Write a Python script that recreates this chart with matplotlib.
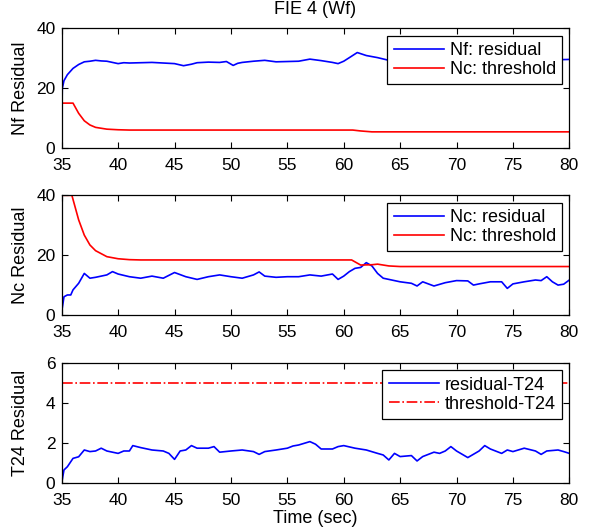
import matplotlib.pyplot as plt

plt.rcParams['font.family'] = ['Liberation Sans', 'DejaVu Sans']
plt.rcParams['font.size'] = 13

# --- data ---
# subplot 1: Nf residual
t_nf = [35, 35.05, 35.2, 35.5, 36, 36.5, 37, 37.5, 38, 38.5, 39, 39.5, 40, 40.5, 41, 42, 43, 44, 45,
        45.8, 46.5, 47, 48, 49, 49.6, 50.2, 50.6, 51, 52, 53, 54, 55, 56, 57, 58, 59, 59.5, 60, 60.5,
        61.2, 62, 63, 64, 65, 66, 67, 68, 69, 70, 71, 72, 73, 74, 75, 76, 77, 78, 79, 80]
nf_res = [7, 19.9, 22.5, 24.5, 26.6, 27.9, 28.8, 29.0, 29.3, 29.1, 29.0, 28.6, 28.2, 28.5, 28.4, 28.5,
          28.6, 28.4, 28.2, 27.5, 28.0, 28.5, 28.7, 28.6, 28.9, 27.6, 28.3, 28.6, 29.0, 29.3, 28.8,
          28.9, 29.0, 29.7, 29.2, 28.6, 28.2, 29.0, 30.2, 31.9, 30.9, 30.2, 29.3, 29.5, 29.4, 29.6,
          29.5, 29.3, 29.6, 29.5, 29.4, 29.6, 29.5, 29.4, 29.6, 29.5, 29.6, 29.5, 29.6]
t_nc_thr1 = [35, 36, 36.5, 37, 37.5, 38, 39, 40, 41, 60.8, 61.5, 62.5, 63, 80]
nc_thr1 = [15, 15, 11.6, 9.1, 7.7, 6.9, 6.3, 6.1, 6.0, 6.0, 5.7, 5.4, 5.4, 5.4]

# subplot 2: Nc residual
t_nc = [35, 35.2, 35.5, 35.8, 36, 36.5, 37, 37.5, 38, 39, 39.5, 40, 41, 42, 43, 44, 45, 46, 47, 48,
        49, 50, 51, 52, 52.5, 53, 54, 55, 56, 57, 58, 59, 59.5, 60, 60.5, 61, 61.5, 62, 62.5, 63,
        63.5, 64, 65, 66, 66.5, 67, 68, 69, 70, 71, 71.5, 72, 73, 74, 74.5, 75, 76, 77, 77.5, 78,
        78.5, 79, 79.5, 80]
nc_res = [1.1, 6.1, 6.7, 6.7, 8.4, 10.6, 13.9, 12.3, 12.6, 13.4, 14.5, 13.7, 12.8, 12.3, 13.0, 12.3,
          14.2, 12.8, 11.9, 12.8, 13.4, 12.8, 12.3, 13.4, 14.4, 13.0, 12.6, 12.8, 12.8, 13.4, 13.0,
          13.7, 11.9, 13.0, 14.5, 15.6, 15.9, 17.5, 16.4, 13.9, 12.3, 11.9, 11.1, 10.6, 9.7, 11.1,
          9.7, 10.8, 11.5, 11.4, 10.0, 10.4, 11.1, 11.1, 8.9, 10.4, 11.1, 11.7, 11.5, 12.8, 11.1,
          10.0, 10.3, 11.7]
t_nc_thr2 = [35, 35.9, 36.5, 37, 37.5, 38, 39, 40, 41, 42, 60.7, 61.5, 62.5, 63, 64, 65, 80]
nc_thr2 = [40, 40, 31.8, 26.7, 23.4, 21.5, 19.5, 18.8, 18.5, 18.4, 18.4, 16.7, 16.8, 17.0, 16.4,
           16.2, 16.2]

# subplot 3: T24 residual
t_t24 = [35, 35.2, 35.5, 36, 36.5, 37, 37.5, 38, 38.5, 39, 40, 40.5, 41, 41.3, 42, 43, 44, 44.5, 45,
         45.5, 46, 46.5, 47, 48, 48.5, 49, 50, 51, 52, 52.5, 53, 54, 55, 55.5, 56, 57, 57.5, 58, 59,
         59.5, 60, 61, 62, 63, 63.5, 64, 64.5, 65, 66, 66.5, 67, 68, 68.5, 69, 69.5, 70, 71, 72,
         72.5, 73, 74, 74.5, 75, 76, 77, 77.5, 78, 79, 79.5, 80]
t24_res = [0, 0.64, 0.8, 1.22, 1.3, 1.64, 1.56, 1.59, 1.73, 1.59, 1.47, 1.59, 1.59, 1.86, 1.76,
           1.64, 1.59, 1.47, 1.17, 1.59, 1.64, 1.86, 1.73, 1.73, 1.81, 1.53, 1.59, 1.64, 1.56,
           1.42, 1.56, 1.64, 1.73, 1.84, 1.89, 2.06, 1.93, 1.69, 1.69, 1.81, 1.86, 1.73, 1.64,
           1.47, 1.39, 1.14, 1.47, 1.31, 1.36, 1.09, 1.31, 1.53, 1.47, 1.59, 1.81, 1.59, 1.26,
           1.59, 1.86, 1.69, 1.47, 1.64, 1.56, 1.73, 1.59, 1.42, 1.59, 1.64, 1.56, 1.47]
t_t24_thr = [35, 80]
t24_thr = [5, 5]

fig = plt.figure(figsize=(5.89, 5.29), dpi=100)
ax1 = fig.add_axes([0.1048, 0.7202, 0.8618, 0.2263])
ax2 = fig.add_axes([0.1048, 0.4045, 0.8618, 0.2263])
ax3 = fig.add_axes([0.1048, 0.0875, 0.8618, 0.2263])

ax1.plot(t_nf, nf_res, color='#0000ff', lw=1.2, label='Nf: residual')
ax1.plot(t_nc_thr1, nc_thr1, color='#ff0000', lw=1.2, label='Nc: threshold')
ax1.set_ylim(0, 40)
ax1.set_yticks([0, 20, 40])
ax1.set_ylabel('Nf Residual')
ax1.set_title('FIE 4 (Wf)', fontsize=13, pad=10.5)

ax2.plot(t_nc, nc_res, color='#0000ff', lw=1.2, label='Nc: residual')
ax2.plot(t_nc_thr2, nc_thr2, color='#ff0000', lw=1.2, label='Nc: threshold')
ax2.set_ylim(0, 40)
ax2.set_yticks([0, 20, 40])
ax2.set_ylabel('Nc Residual')

ax3.plot(t_t24, t24_res, color='#0000ff', lw=1.2, label='residual-T24')
ax3.plot(t_t24_thr, t24_thr, color='#ff0000', lw=1.2, ls='-.', label='threshold-T24')
ax3.set_ylim(0, 6)
ax3.set_yticks([0, 2, 4, 6])
ax3.set_ylabel('T24 Residual')
ax3.set_xlabel('Time (sec)', labelpad=1)

for ax in (ax1, ax2, ax3):
    ax.set_xlim(35, 80)
    ax.set_xticks(range(35, 81, 5))
    ax.tick_params(direction='in', top=True, right=True, length=4, width=0.8, labelsize=12.5)
    ax.tick_params(axis='x', pad=7.5)
    ax.tick_params(axis='y', pad=4.5)
    ax.yaxis.set_label_coords(-0.064, 0.5)
    for s in ax.spines.values():
        s.set_linewidth(0.9)
    leg = ax.legend(loc='upper right', fancybox=False, framealpha=1, edgecolor='black',
                    fontsize=13, handlelength=2.8, handletextpad=0.3, borderaxespad=0.4,
                    labelspacing=0.12, borderpad=0.35)
    leg.get_frame().set_linewidth(0.9)

fig.savefig('out.png', dpi=100)
